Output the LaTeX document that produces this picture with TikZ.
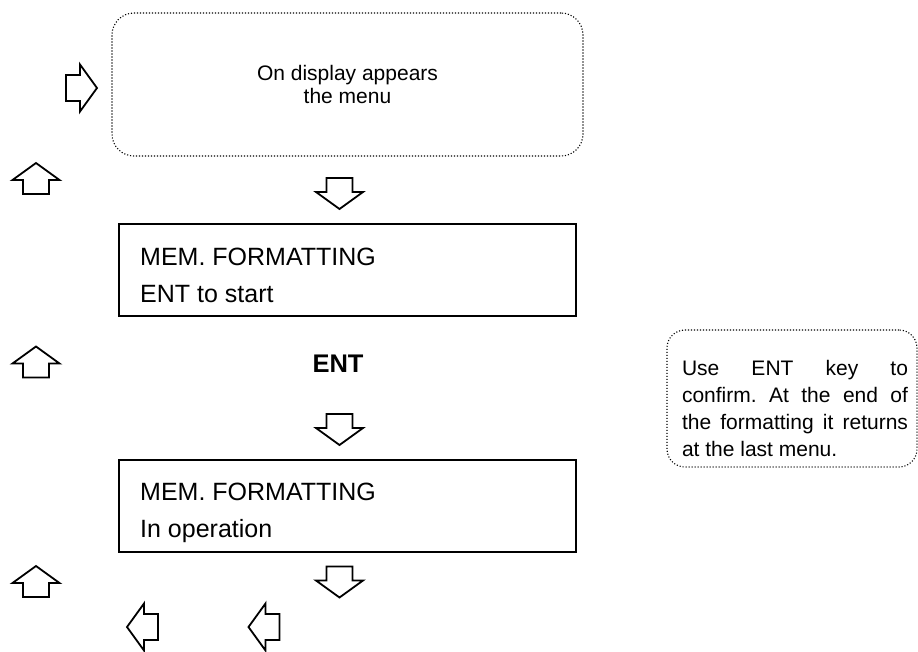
\documentclass[tikz,border=0pt]{standalone}
\usepackage{fontspec}
\setmainfont{Liberation Sans}
\frenchspacing
\begin{document}
\begin{tikzpicture}[
  x=1pt, y=-1pt,
  arrowline/.style={draw=black, line width=1.8pt, line join=miter, fill=white},
  blockarrow/.pic={
    \draw[arrowline] (-15.5,-13) -- (-1.5,-13) -- (-1.5,-23.5) -- (15.5,0)
      -- (-1.5,23.5) -- (-1.5,13) -- (-15.5,13) -- cycle;
  },
  dotbox/.style={draw=black, line width=1.1pt, dash pattern=on 1.1pt off 1.9pt,
    rounded corners=22pt, inner sep=0pt},
  lcdbox/.style={draw=black, line width=1.8pt, minimum width=457pt,
    minimum height=92pt, inner sep=0pt},
  lcdtxt/.style={inner sep=0pt, font=\fontsize{25}{30}\selectfont},
]
\useasboundingbox (0,0) rectangle (918,651);

% first screen: dotted rounded box
\node[dotbox, minimum width=471pt, minimum height=143pt, align=center,
  font=\fontsize{21}{23.5}\selectfont] (menu) at (347.5,84.5)
  {On display appears\\the menu};

% side arrows
\pic (inR) at (81.5,88) {blockarrow};
\pic[rotate=90] (up1) at (36,178.5) {blockarrow};
\pic[rotate=90] (up2) at (36,362) {blockarrow};
\pic[rotate=90] (up3) at (36,581.5) {blockarrow};

% flow arrows down the middle
\pic[rotate=-90] (dn1) at (339.5,193.5) {blockarrow};
\pic[rotate=-90] (dn2) at (339.5,429.5) {blockarrow};
\pic[rotate=-90] (dn3) at (339.5,582) {blockarrow};

% first display
\node[lcdbox] (disp1) at (347.5,270) {};
\node[lcdtxt, anchor=base west] (disp1a) at (140,265) {MEM. FORMATTING};
\node[lcdtxt, anchor=base west] (disp1b) at (140,302) {ENT to start};

% key press
\node[inner sep=0pt, anchor=base, font=\fontsize{25.5}{30}\selectfont\bfseries]
  (key) at (338,372) {ENT};

% second display
\node[lcdbox] (disp2) at (347.5,506) {};
\node[lcdtxt, anchor=base west] (disp2a) at (140,500) {MEM. FORMATTING};
\node[lcdtxt, anchor=base west] (disp2b) at (140,537) {In operation};

% exit arrows
\pic[rotate=180] (lt1) at (142.5,627) {blockarrow};
\pic[rotate=180] (lt2) at (264,627) {blockarrow};

% side note
\node[dotbox, rounded corners=18pt, minimum width=250pt, minimum height=137pt]
  (notebox) at (792,398.5) {};
\node[inner sep=0pt, text width=226pt, align=justify,
  font=\fontsize{21}{26.8}\selectfont] (note) at (795,408.5)
  {\noindent Use ENT key to\linebreak confirm. At the end of\linebreak
   the formatting it returns\linebreak at the last menu.};
\end{tikzpicture}
\end{document}
